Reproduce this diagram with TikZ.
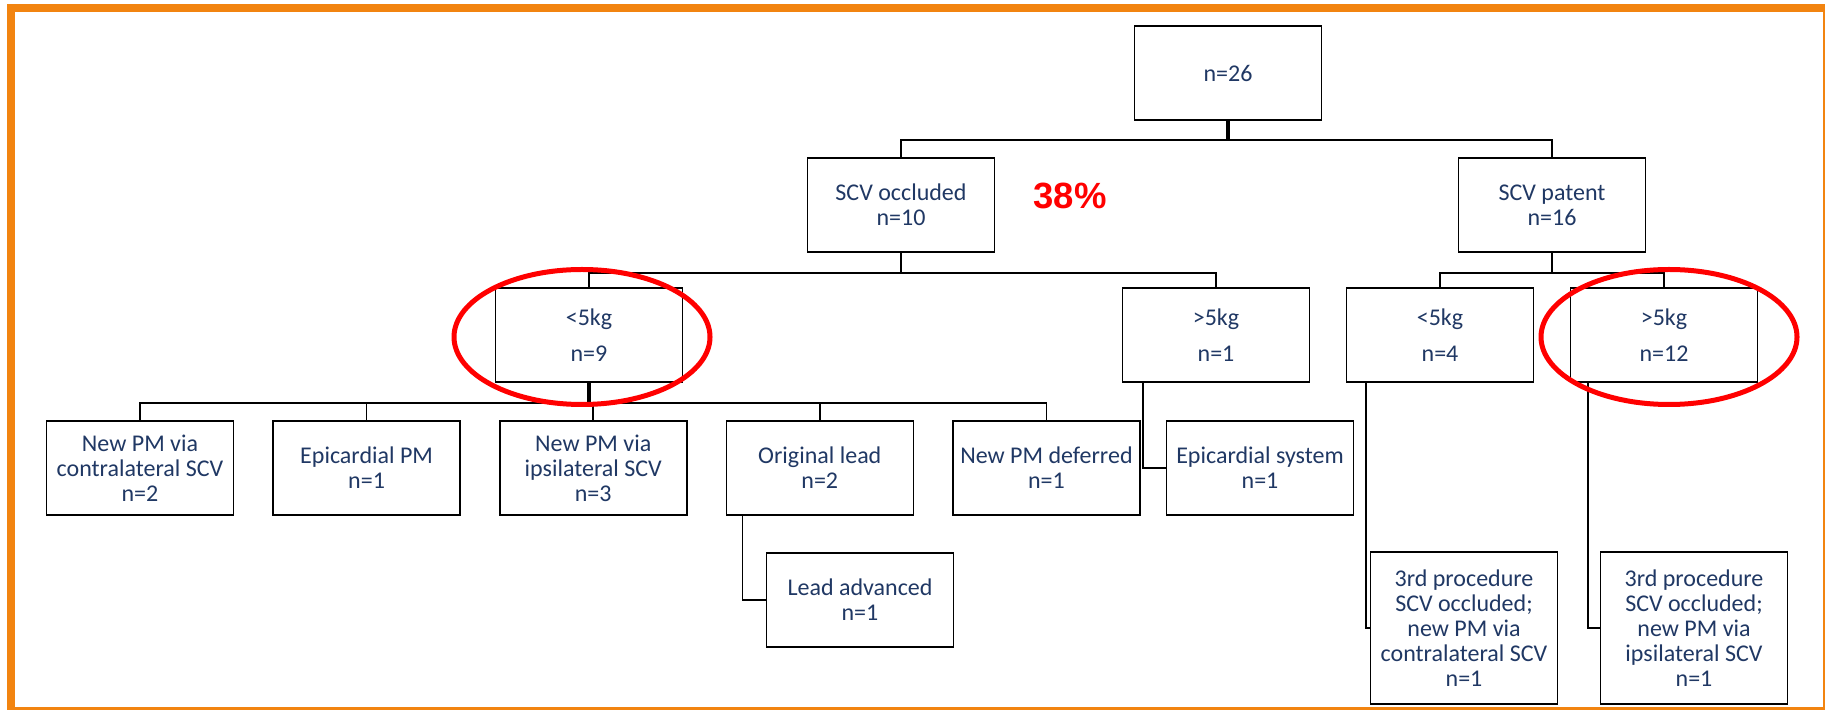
\documentclass[tikz,border=0pt]{standalone}
\usepackage{fontspec}
\setmainfont{Carlito}
\newfontfamily\pctfont{Liberation Sans}
\usepackage{xcolor}
\usetikzlibrary{positioning,calc}
\definecolor{frameorange}{HTML}{F28410}
\definecolor{textnavy}{HTML}{203864}
\tikzset{
  box/.style={draw,line width=0.8pt,fill=white,align=center,inner sep=2pt,
    minimum width=93.5pt,minimum height=47pt,text=textnavy,
    font=\fontsize{12}{12.5}\selectfont},
  tall/.style={box,minimum height=76pt},
  link/.style={line width=0.8pt},
  stem/.style={line width=1.6pt},
  ring/.style={red,line width=2.5pt},
}

\begin{document}
\begin{tikzpicture}[x=0.5pt,y=-0.5pt,node distance=19pt]
\useasboundingbox (0,0) rectangle (1825,710);
\draw[frameorange,line width=4pt] (11,8) rectangle (1827,711);

% top of the tree
\node[box] (root) at (1228,73) {n=26};
\node[box] (occl) at (901,205) {SCV occluded\\n=10};
\node[box] (pat) at (1552,205) {SCV patent\\n=16};
\node[text=red,font=\pctfont\bfseries\fontsize{18.25}{20}\selectfont] (pct) at (1070,196) {38\%};

% weight groups
\node[box] (occlow) at (589,335) {<5kg\\[5.5pt]n=9};
\node[box] (occhigh) at (1216,335) {>5kg\\[5.5pt]n=1};
\node[box] (patlow) at (1440,335) {<5kg\\[5.5pt]n=4};
\node[box] (pathigh) at (1664,335) {>5kg\\[5.5pt]n=12};

% outcomes
\node[box] (contra) at (140,468) {New PM via\\contralateral SCV\\n=2};
\node[box, right=of contra] (epipm) {Epicardial PM\\n=1};
\node[box, right=of epipm] (ipsi) {New PM via\\ipsilateral SCV\\n=3};
\node[box, right=of ipsi] (orig) {Original lead\\n=2};
\node[box, right=of orig] (defer) {New PM deferred\\n=1};
\node[box] (episys) at (1260,468) {Epicardial system\\n=1};
\node[box] (adv) at (860,600) {Lead advanced\\n=1};
\node[tall] (thirdc) at (1464,628) {3rd procedure\\SCV occluded;\\new PM via\\contralateral SCV\\n=1};
\node[tall] (thirdi) at (1694,628) {3rd procedure\\SCV occluded;\\new PM via\\ipsilateral SCV\\n=1};

% connectors
\draw[stem] (root.south) -- ++(0,19) coordinate (rootbar);
\draw[link] (rootbar) -| (occl.north);
\draw[link] (rootbar) -| (pat.north);
\draw[link] (occl.south) -- ++(0,20) coordinate (occlbar);
\draw[link] (occlbar) -| (occlow.north);
\draw[link] (occlbar) -| (occhigh.north);
\draw[link] (pat.south) -- ++(0,20) coordinate (patbar);
\draw[link] (patbar) -| (patlow.north);
\draw[link] (patbar) -| (pathigh.north);
\draw[stem] (occlow.south) -- ++(0,20) coordinate (lowbar);
\foreach \n in {contra,epipm,ipsi,orig,defer}
  \draw[link] (lowbar) -| (\n.north);
\draw[link] ([xshift=10.5pt]occhigh.south west) |- (episys.west);
\draw[link] ([xshift=8.5pt]orig.south west) |- (adv.west);
\draw[link] ([xshift=10pt]patlow.south west) |- (thirdc.west);
\draw[link] ([xshift=9pt]pathigh.south west) |- (thirdi.west);

% highlight rings
\draw[ring] (582,337) ellipse [x radius=64pt, y radius=33.75pt];
\draw[ring] (1669,337) ellipse [x radius=64pt, y radius=33.75pt];
\end{tikzpicture}
\end{document}
